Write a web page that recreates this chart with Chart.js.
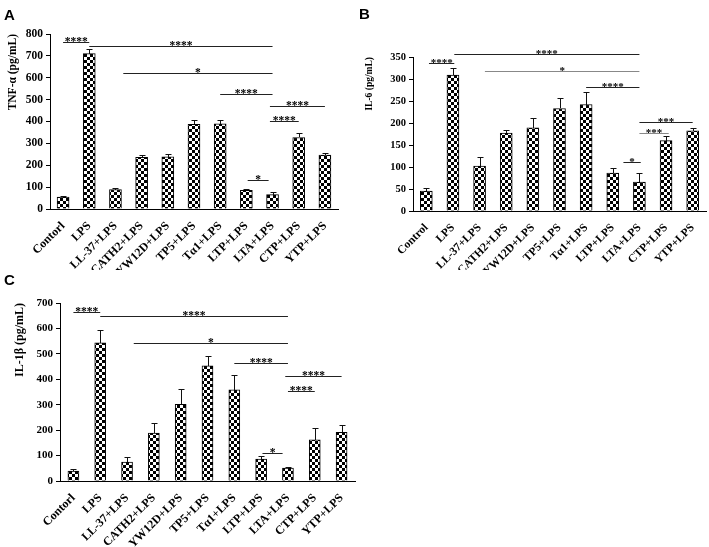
<!DOCTYPE html>
<html><head><meta charset="utf-8">
<script src="https://cdn.jsdelivr.net/npm/chart.js@4.4.1/dist/chart.umd.min.js"></script>
<style>
html,body{margin:0;padding:0;background:#fff;}
#wrap{position:relative;width:709px;height:547px;overflow:hidden;background:#fff;}
canvas{position:absolute;}
.lbl{position:absolute;font:bold 15px "Liberation Sans",Arial,sans-serif;color:#000;line-height:1;}
</style></head><body>
<div id="wrap">
<canvas id="cA" width="355" height="270" style="left:0;top:0"></canvas>
<canvas id="cB" width="354" height="270" style="left:355px;top:0"></canvas>
<canvas id="cC" width="360" height="277" style="left:0;top:270px"></canvas>
<div class="lbl" style="left:4px;top:7px">A</div>
<div class="lbl" style="left:359px;top:6px">B</div>
<div class="lbl" style="left:4px;top:272px">C</div>
</div>
<script>
// ---------- data ----------
const categoriesAC = ['Contorl','LPS','LL-37+LPS','CATH2+LPS','YW12D+LPS','TP5+LPS','Tα1+LPS','LTP+LPS','LTA+LPS','CTP+LPS','YTP+LPS'];
const categoriesB  = ['Control','LPS','LL-37+LPS','CATH2+LPS','YW12D+LPS','TP5+LPS','Tα1+LPS','LTP+LPS','LTA+LPS','CTP+LPS','YTP+LPS'];

const tnfMean  = [55, 710, 89, 236, 239, 387, 389, 85, 66, 327, 246];
const tnfErr   = [3, 20, 9, 9, 14, 22, 18, 5, 10, 21, 12];
const il6Mean  = [45, 309, 102, 177, 189, 233, 242, 86, 66, 160, 182];
const il6Err   = [7, 16, 20, 6, 23, 24, 29, 12, 20, 10, 7];
const il1bMean = [39, 543, 74, 188, 302, 453, 359, 86, 51, 162, 191];
const il1bErr  = [9, 49, 20, 41, 60, 38, 59, 12, 6, 48, 31];

const yTicksA = [0,100,200,300,400,500,600,700,800];
const yTicksB = [0,50,100,150,200,250,300,350];
const yTicksC = [0,100,200,300,400,500,600,700];

// significance brackets: from category index a to b at value y
const sigA = [
  {a:0, b:1, y:762, t:'****'},
  {a:1, b:8, y:746, t:'****'},
  {a:2.3, b:8, y:623, t:'*'},
  {a:6, b:8, y:525, t:'****'},
  {a:7.9, b:10, y:472, t:'****'},
  {a:7.9, b:9, y:404, t:'****'},
  {a:7.05, b:7.85, y:134, t:'*'}
];
const sigB = [
  {a:0.1, b:1.05, y:336, t:'****'},
  {a:1.05, b:8, y:357, t:'****'},
  {a:2.2, b:8, y:318, t:'*', c:'#888'},
  {a:6, b:8, y:282, t:'****'},
  {a:8, b:10, y:203, t:'***'},
  {a:8, b:9.1, y:177, t:'***', c:'#888'},
  {a:7.4, b:8.05, y:111, t:'*'}
];
const sigC = [
  {a:0, b:1, y:664, t:'****'},
  {a:1, b:8, y:649, t:'****'},
  {a:2.25, b:8, y:543, t:'*'},
  {a:6, b:8, y:464, t:'****'},
  {a:7.9, b:10, y:411, t:'****'},
  {a:8, b:9, y:352, t:'****'},
  {a:7.05, b:7.8, y:111, t:'*'}
];

// ---------- drawing ----------
const SERIF = '"Liberation Serif","Times New Roman",serif';

function checker(ctx, cell){
  const c = document.createElement('canvas');
  c.width = c.height = cell*2;
  const g = c.getContext('2d');
  g.fillStyle = '#fff'; g.fillRect(0,0,cell*2,cell*2);
  g.fillStyle = '#000'; g.fillRect(0,0,cell,cell); g.fillRect(cell,cell,cell,cell);
  return ctx.createPattern(c,'repeat');
}

function marks(errs, sig, fs){
  return {id:'marks', afterDatasetsDraw(chart){
    const {ctx, scales:{x,y}} = chart;
    const vals = chart.data.datasets[0].data;
    ctx.save();
    ctx.lineWidth = 1;
    ctx.strokeStyle = '#111';
    vals.forEach((v,i)=>{
      const cx = Math.round(x.getPixelForValue(i))+0.5;
      const yt = Math.round(y.getPixelForValue(v));
      const ye = Math.round(y.getPixelForValue(v+errs[i]))+0.5;
      ctx.beginPath();
      ctx.moveTo(cx,yt); ctx.lineTo(cx,ye);
      ctx.moveTo(cx-3,ye); ctx.lineTo(cx+3,ye);
      ctx.stroke();
    });
    ctx.font = 'bold '+fs+'px '+SERIF;
    ctx.textAlign = 'center';
    ctx.textBaseline = 'alphabetic';
    sig.forEach(s=>{
      const x1 = x.getPixelForValue(s.a), x2 = x.getPixelForValue(s.b);
      const yy = Math.round(y.getPixelForValue(s.y))+0.5;
      ctx.strokeStyle = s.c || '#222';
      ctx.beginPath(); ctx.moveTo(x1,yy); ctx.lineTo(x2,yy); ctx.stroke();
      ctx.fillStyle = '#000';
      ctx.fillText(s.t, (x1+x2)/2, yy+2);
    });
    ctx.restore();
  }};
}

function makeChart(id, cats, vals, errs, sig, ticks, title, geo){
  const canvas = document.getElementById(id);
  const ctx = canvas.getContext('2d');
  return new Chart(ctx, {
    type:'bar',
    data:{labels:cats, datasets:[{
      data:vals,
      backgroundColor:checker(ctx,3),
      borderColor:'#000', borderWidth:1,
      barThickness:geo.bar
    }]},
    options:{
      responsive:false, animation:false,
      layout:{padding:{top:geo.top,right:geo.right,left:0,bottom:0}},
      plugins:{legend:{display:false}, tooltip:{enabled:false}},
      scales:{
        x:{
          grid:{display:false},
          border:{color:'#000',width:1},
          ticks:{color:'#000',font:{family:SERIF,weight:'bold',size:geo.xf},minRotation:45,maxRotation:45,autoSkip:false,padding:2},
          afterFit:(s)=>{s.height=geo.xh;}
        },
        y:{
          min:ticks[0], max:ticks[ticks.length-1],
          afterBuildTicks:(s)=>{s.ticks = ticks.map(v=>({value:v}));},
          grid:{drawOnChartArea:false,drawTicks:true,tickLength:4,color:'#000'},
          border:{color:'#000',width:1},
          ticks:{color:'#000',font:{family:SERIF,weight:'bold',size:geo.yf},padding:3},
          title:{display:true,text:title,align:'end',color:'#000',font:{family:SERIF,weight:'bold',size:geo.tf},padding:{top:geo.tp,bottom:0}},
          afterFit:(s)=>{s.width=geo.yw;}
        }
      }
    },
    plugins:[marks(errs,sig,geo.sf)]
  });
}

makeChart('cA', categoriesAC, tnfMean, tnfErr, sigA, yTicksA, 'TNF-α (pg/mL)',
  {top:34,right:17,xh:61,yw:50,bar:12,tp:6,xf:12,yf:11.5,tf:11.5,sf:11.5});
makeChart('cB', categoriesB, il6Mean, il6Err, sigB, yTicksB, 'IL-6 (pg/mL)',
  {top:57,right:3,xh:59,yw:58,bar:12,tp:9,xf:11.5,yf:10.5,tf:9.5,sf:11});
makeChart('cC', categoriesAC, il1bMean, il1bErr, sigC, yTicksC, 'IL-1β (pg/mL)',
  {top:33,right:5,xh:66,yw:60,bar:11,tp:13,xf:12,yf:11,tf:12,sf:11.5});
</script>
</body></html>
